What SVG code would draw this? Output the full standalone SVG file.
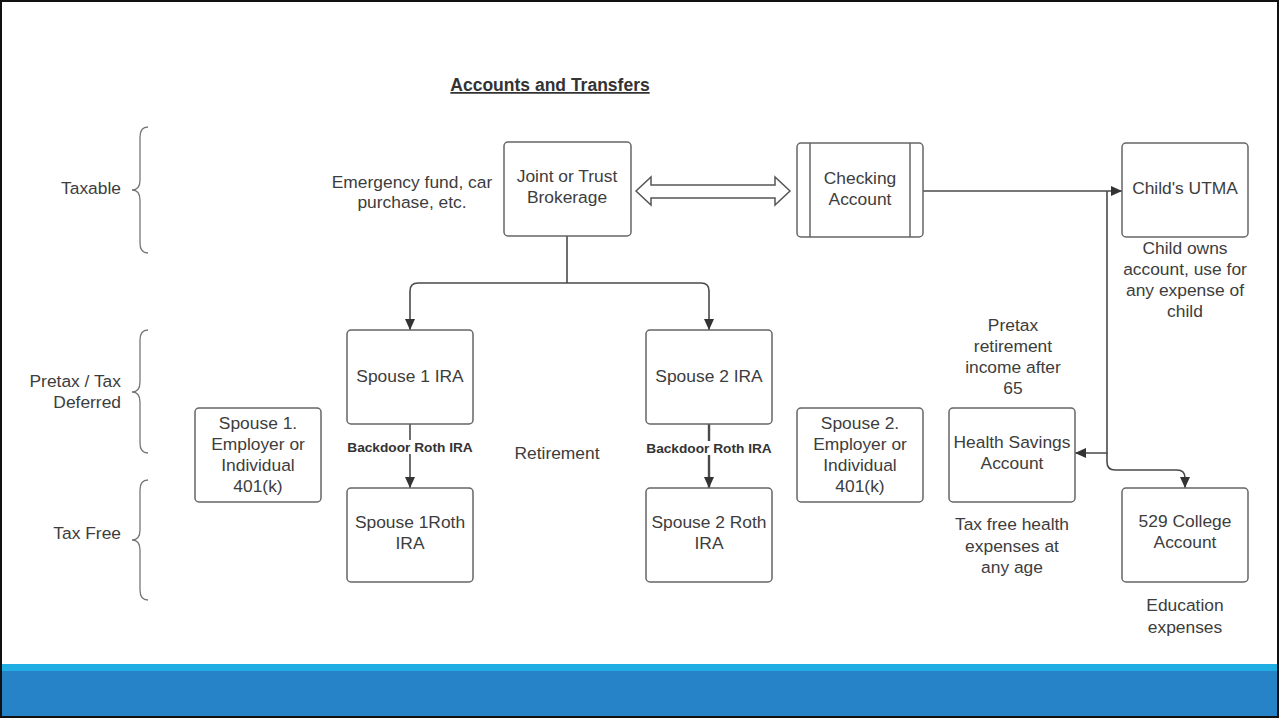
<svg xmlns="http://www.w3.org/2000/svg" width="1279" height="719" viewBox="0 0 1279 719">
<defs>
<style>
.t{font-family:"Liberation Sans",Arial,sans-serif;font-size:17.4px;fill:#3d3d3d;text-anchor:middle}
.r{text-anchor:end}
.b{font-weight:bold;font-size:13.7px;fill:#333}
.box{fill:#fff;stroke:#666;stroke-width:1.5}
.c{fill:none;stroke:#4a4a4a;stroke-width:1.6}
.br{fill:none;stroke:#777;stroke-width:1.3}
</style>
<marker id="ah" markerUnits="userSpaceOnUse" markerWidth="11" markerHeight="10" refX="11" refY="5" orient="auto">
<path d="M0,0 L11,5 L0,10 z" fill="#333"/>
</marker>
</defs>
<rect x="0" y="0" width="1279" height="719" fill="#fff"/>
<rect x="1" y="664" width="1277" height="7" fill="#1fade3"/>
<rect x="1" y="671" width="1277" height="46" fill="#2683c7"/>
<rect x="1" y="1" width="1277" height="716" fill="none" stroke="#111" stroke-width="2"/>

<text class="t" x="550" y="91" style="font-weight:bold;font-size:17.5px;text-decoration:underline;fill:#333">Accounts and Transfers</text>

<g id="braces">
<path class="br" d="M148,127 Q140,127 140,137 L140,180 Q140,190 132,190 Q140,190 140,200 L140,243 Q140,253 148,253"/>
<path class="br" d="M148,330 Q140,330 140,340 L140,382 Q140,392 132,392 Q140,392 140,402 L140,443 Q140,453 148,453"/>
<path class="br" d="M148,480 Q140,480 140,490 L140,530 Q140,540 132,540 Q140,540 140,550 L140,590 Q140,600 148,600"/>
<text class="t r" x="121" y="194">Taxable</text>
<text class="t r" x="121" y="387">Pretax / Tax</text>
<text class="t r" x="121" y="408">Deferred</text>
<text class="t r" x="121" y="539">Tax Free</text>
</g>

<g id="connectors">
<polygon points="636,191 651,177 651,185 775,185 775,177 790,191 775,205 775,198 651,198 651,205" fill="#fff" stroke="#555" stroke-width="1.5"/>
<path class="c" d="M567,236 V283"/>
<path class="c" d="M567,283 H418 Q410,283 410,291 V330" marker-end="url(#ah)"/>
<path class="c" d="M567,283 H701 Q709,283 709,291 V330" marker-end="url(#ah)"/>
<path class="c" d="M923,191 H1122" marker-end="url(#ah)"/>
<path class="c" d="M1107,191 V453 H1075" marker-end="url(#ah)"/>
<path class="c" d="M1107,453 V462 Q1107,470 1115,470 H1177 Q1185,470 1185,478 V488" marker-end="url(#ah)"/>
<path class="c" d="M410,424 V488" marker-end="url(#ah)"/>
<path class="c" d="M709,424 V488" style="stroke-width:2.4" marker-end="url(#ah)"/>
<rect x="345" y="440" width="130" height="14" fill="#fff"/>
<rect x="644" y="441" width="130" height="14" fill="#fff"/>
<text class="t b" x="410" y="452">Backdoor Roth IRA</text>
<text class="t b" x="709" y="453">Backdoor Roth IRA</text>
</g>

<g id="joint">
<rect class="box" x="504" y="142" width="127" height="94" rx="4"/>
<text class="t" x="567" y="182">Joint or Trust</text>
<text class="t" x="567" y="203">Brokerage</text>
</g>
<g id="checking">
<rect class="box" x="797" y="143" width="126" height="94" rx="4"/>
<line x1="810" y1="143" x2="810" y2="237" stroke="#666" stroke-width="1.5"/>
<line x1="910" y1="143" x2="910" y2="237" stroke="#666" stroke-width="1.5"/>
<text class="t" x="860" y="184">Checking</text>
<text class="t" x="860" y="205">Account</text>
</g>
<g id="utma">
<rect class="box" x="1122" y="143" width="126" height="94" rx="4"/>
<text class="t" x="1185" y="194">Child's UTMA</text>
</g>
<g id="spouse1ira">
<rect class="box" x="347" y="330" width="126" height="94" rx="4"/>
<text class="t" x="410" y="382">Spouse 1 IRA</text>
</g>
<g id="spouse2ira">
<rect class="box" x="646" y="330" width="126" height="94" rx="4"/>
<text class="t" x="709" y="382">Spouse 2 IRA</text>
</g>
<g id="spouse1k">
<rect class="box" x="195" y="408" width="126" height="94" rx="4"/>
<text class="t" x="258" y="429">Spouse 1.</text>
<text class="t" x="258" y="450">Employer or</text>
<text class="t" x="258" y="471">Individual</text>
<text class="t" x="258" y="492">401(k)</text>
</g>
<g id="spouse1roth">
<rect class="box" x="347" y="488" width="126" height="94" rx="4"/>
<text class="t" x="410" y="528">Spouse 1Roth</text>
<text class="t" x="410" y="549">IRA</text>
</g>
<g id="spouse2roth">
<rect class="box" x="646" y="488" width="126" height="94" rx="4"/>
<text class="t" x="709" y="528">Spouse 2 Roth</text>
<text class="t" x="709" y="549">IRA</text>
</g>
<g id="spouse2k">
<rect class="box" x="797" y="408" width="126" height="94" rx="4"/>
<text class="t" x="860" y="429">Spouse 2.</text>
<text class="t" x="860" y="450">Employer or</text>
<text class="t" x="860" y="471">Individual</text>
<text class="t" x="860" y="492">401(k)</text>
</g>
<g id="hsa">
<rect class="box" x="949" y="408" width="126" height="94" rx="4"/>
<text class="t" x="1012" y="448">Health Savings</text>
<text class="t" x="1012" y="469">Account</text>
</g>
<g id="college529">
<rect class="box" x="1122" y="488" width="126" height="94" rx="4"/>
<text class="t" x="1185" y="527">529 College</text>
<text class="t" x="1185" y="548">Account</text>
</g>

<g id="notes">
<text class="t" x="412" y="188">Emergency fund, car</text>
<text class="t" x="412" y="208">purchase, etc.</text>
<text class="t" x="1185" y="254">Child owns</text>
<text class="t" x="1185" y="275">account, use for</text>
<text class="t" x="1185" y="296">any expense of</text>
<text class="t" x="1185" y="317">child</text>
<text class="t" x="1013" y="331">Pretax</text>
<text class="t" x="1013" y="352">retirement</text>
<text class="t" x="1013" y="373">income after</text>
<text class="t" x="1013" y="394">65</text>
<text class="t" x="557" y="459">Retirement</text>
<text class="t" x="1012" y="530">Tax free health</text>
<text class="t" x="1012" y="552">expenses at</text>
<text class="t" x="1012" y="573">any age</text>
<text class="t" x="1185" y="611">Education</text>
<text class="t" x="1185" y="633">expenses</text>
</g>
</svg>
